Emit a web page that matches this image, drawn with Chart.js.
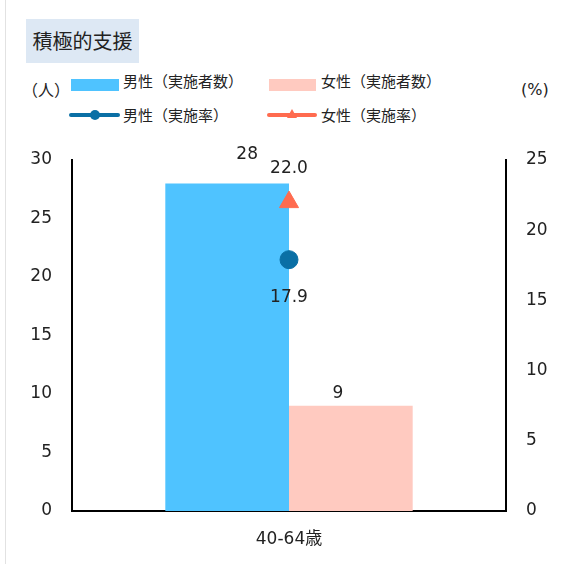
<!DOCTYPE html>
<html>
<head>
<meta charset="utf-8">
<script src="https://cdn.jsdelivr.net/npm/chart.js@4"></script>
<style>
  body { margin: 0; background: #fff; font-family: "Noto Sans CJK JP", sans-serif; }
  #wrap { position: relative; width: 566px; height: 564px; overflow: hidden; }
  #edge { position: absolute; left: 5px; top: 0; width: 1px; height: 564px; background: #e2e2e2; }
  #title { position: absolute; left: 26px; top: 19px; width: 113px; height: 44px; background: #dde8f4;
           font-size: 20px; line-height: 44px; text-align: center; color: #222; }
  .unit { position: absolute; font-size: 16px; color: #222; }
  .leg { position: absolute; font-size: 15px; color: #222; line-height: 18px; }
  .sw { position: absolute; }
  #chart { position: absolute; left: 0; top: 0; }
</style>
</head>
<body>
<div id="wrap">
  <div id="edge"></div>
  <div id="title">積極的支援</div>
  <div class="unit" style="left:22px; top:77px;">（人）</div>
  <div class="unit" style="left:521px; top:80px; font-family:'DejaVu Sans', sans-serif;">(%)</div>

  <div class="sw" style="left:71px; top:79px; width:48px; height:12px; background:#4fc3ff;"></div>
  <div class="leg" style="left:123px; top:72px;">男性（実施者数）</div>
  <div class="sw" style="left:269px; top:79px; width:47px; height:12px; background:#ffcac0;"></div>
  <div class="leg" style="left:321px; top:72px;">女性（実施者数）</div>

  <div class="sw" style="left:69px; top:113px; width:51px; height:4px; border-radius:2px; background:#0a6fa5;"></div>
  <div class="sw" style="left:90px; top:110px; width:10px; height:10px; border-radius:5px; background:#0a6fa5;"></div>
  <div class="leg" style="left:123px; top:106px;">男性（実施率）</div>
  <div class="sw" style="left:267px; top:113px; width:50px; height:4px; border-radius:2px; background:#ff6b4f;"></div>
  <div class="sw" style="left:287px; top:109px; width:0; height:0; border-left:5px solid transparent; border-right:5px solid transparent; border-bottom:9px solid #ff6b4f;"></div>
  <div class="leg" style="left:321px; top:106px;">女性（実施率）</div>

  <canvas id="chart" width="566" height="564"></canvas>
</div>
<script>
const categories = ["40-64歳"];
const maleCount = [28];
const femaleCount = [9];
const maleRate = [17.9];
const femaleRate = [22.0];
const leftTicks = [0, 5, 10, 15, 20, 25, 30];
const rightTicks = [0, 5, 10, 15, 20, 25];

const tickFont = { family: "'DejaVu Sans', sans-serif", size: 17 };

// draws the value labels next to bars and points (offsets in px per dataset)
const valueLabels = {
  id: "valueLabels",
  afterDatasetsDraw(chart) {
    const ctx = chart.ctx;
    ctx.save();
    ctx.fillStyle = "#222";
    ctx.font = "17px 'DejaVu Sans', sans-serif";
    ctx.textAlign = "center";
    ctx.textBaseline = "middle";
    chart.data.datasets.forEach((ds, i) => {
      const meta = chart.getDatasetMeta(i);
      const off = ds.labelOffset || [0, 0];
      meta.data.forEach((el, j) => {
        const v = ds.data[j];
        const text = ds.type === "line" ? v.toFixed(1) : String(v);
        ctx.fillText(text, el.x + off[0], el.y + off[1]);
      });
    });
    ctx.restore();
  }
};

new Chart(document.getElementById("chart"), {
  data: {
    labels: categories,
    datasets: [
      {
        type: "line",
        label: "男性（実施率）",
        data: maleRate,
        yAxisID: "y2",
        showLine: false,
        pointStyle: "circle",
        pointRadius: 9,
        pointBackgroundColor: "#0a6fa5",
        pointBorderColor: "#0a6fa5",
        borderColor: "#0a6fa5",
        labelOffset: [0, 38],
        order: 0
      },
      {
        type: "line",
        label: "女性（実施率）",
        data: femaleRate,
        yAxisID: "y2",
        showLine: false,
        pointStyle: "triangle",
        pointRadius: 11,
        pointBackgroundColor: "#ff6b4f",
        pointBorderColor: "#ff6b4f",
        borderColor: "#ff6b4f",
        labelOffset: [0, -34],
        order: 0
      },
      {
        type: "bar",
        label: "男性（実施者数）",
        data: maleCount,
        yAxisID: "y",
        backgroundColor: "#4fc3ff",
        labelOffset: [20, -29],
        order: 1
      },
      {
        type: "bar",
        label: "女性（実施者数）",
        data: femaleCount,
        yAxisID: "y",
        backgroundColor: "#ffcac0",
        labelOffset: [-13, -12],
        order: 1
      }
    ]
  },
  options: {
    responsive: false,
    animation: false,
    layout: { padding: { top: 160, left: 0, right: 0, bottom: 0 } },
    datasets: { bar: { barPercentage: 1, categoryPercentage: 0.57 } },
    plugins: { legend: { display: false }, tooltip: { enabled: false } },
    scales: {
      x: {
        grid: { display: false, drawTicks: false },
        border: { color: "#000", width: 2 },
        ticks: { color: "#222", font: { family: "'DejaVu Sans', 'Noto Sans CJK JP', sans-serif", size: 17 }, padding: 18 },
        afterFit(s) { s.height = 53; }
      },
      y: {
        position: "left",
        min: 0, max: 30,
        afterBuildTicks(s) { s.ticks = leftTicks.map(v => ({ value: v })); },
        grid: { display: false, drawTicks: false },
        border: { color: "#000", width: 2 },
        ticks: { color: "#222", font: tickFont, padding: 20 },
        afterFit(s) { s.width = 72; }
      },
      y2: {
        position: "right",
        min: 0, max: 25,
        afterBuildTicks(s) { s.ticks = rightTicks.map(v => ({ value: v })); },
        grid: { display: false, drawTicks: false },
        border: { color: "#000", width: 2 },
        ticks: { color: "#222", font: tickFont, padding: 20 },
        afterFit(s) { s.width = 60; }
      }
    }
  },
  plugins: [valueLabels]
});
</script>
</body>
</html>
